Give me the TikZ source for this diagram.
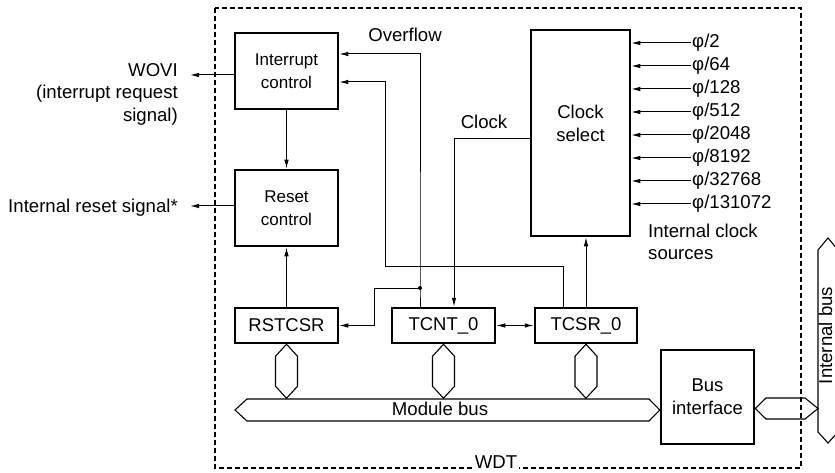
\documentclass[tikz,border=0pt]{standalone}
\usepackage{fontspec}
\setmainfont{Liberation Sans}
\usetikzlibrary{arrows.meta,calc}
\begin{document}
\begin{tikzpicture}[x=1pt,y=-1pt,
  blk/.style={draw, line width=2.5pt, minimum width=103pt, inner sep=0pt, align=center, font=\fontsize{18.5}{23}\selectfont},
  wire/.style={line width=1pt},
  arr/.style={wire, -{Latex[length=9pt,width=4.5pt]}},
  darr/.style={wire, {Latex[length=9pt,width=4.5pt]}-{Latex[length=9pt,width=4.5pt]}},
  bus/.style={line width=1.1pt},
  lbl/.style={font=\fontsize{18.6}{22.5}\selectfont, inner sep=0pt},
]
\useasboundingbox (0,0) rectangle (835,473);
\clip (0,0) rectangle (835,473);
\fill[white] (0,0) rectangle (835,473);

% WDT boundary
\draw[line width=1.1pt, dash pattern=on 5pt off 3pt] (215,8) rectangle (801,468);
\node[lbl, fill=white, inner xsep=2pt, inner ysep=1pt] (wdt) at (496,462.5) {WDT};

% blocks
\node[blk, minimum height=76pt, font=\fontsize{17}{23}\selectfont] (ic) at (286.5,71) {Interrupt\\control};
\node[blk, minimum height=76pt, font=\fontsize{17}{23}\selectfont] (rc) at (286.5,208) {Reset\\control};
\node[blk, minimum height=35pt] (rst) at (286.5,325.5) {RSTCSR};
\node[blk, minimum height=35pt] (tcnt) at (443.5,325.5) {TCNT\_0};
\node[blk, minimum height=35pt, minimum width=102pt] (tcsr) at (586,325.5) {TCSR\_0};
\node[blk, minimum width=99pt, minimum height=206pt,
  label={[lbl, font=\fontsize{18.5}{23}\selectfont, align=center, yshift=9.5pt]center:{Clock\\select}}] (cs) at (580.5,133) {};
\node[blk, minimum width=93pt, minimum height=94pt] (bi) at (707.5,397) {Bus\\interface};

% outside labels
\node[lbl, align=right, anchor=north east] (wovi) at (178,63) {WOVI\\(interrupt request\\signal)};
\node[lbl, anchor=base east] (rstsig) at (178,213) {Internal reset signal*};
\node[lbl, anchor=base] (ovf) at (405,42) {Overflow};
\node[lbl, anchor=base] (clk) at (484,129) {Clock};
\node[lbl, align=left, anchor=north west] (ics) at (648,223.5) {Internal clock\\sources};

% clock sources
\foreach \t [count=\i] in {2,64,128,512,2048,8192,32768,131072} {
  \node[lbl, anchor=west, inner xsep=1pt] (src\i) at (691,20+23*\i) {φ/\t};
  \draw[arr] (src\i.west) -- (cs.east |- src\i.west);
}

% outputs
\coordinate (woviend) at (190,75);
\coordinate (rstend) at (190,206);
\draw[arr] (ic.west |- woviend) -- (woviend);
\draw[arr] (rc.west |- rstend) -- (rstend);
\draw[arr] (ic.south) -- (rc.north);
\draw[arr] (rst.north) -- (rc.south);

% overflow
\coordinate (ovtop) at (420,54);
\coordinate (jn) at (420,288);
\draw[arr] (tcnt.north -| jn) -- (jn) |- (ic.east |- ovtop);
\fill (jn) circle (2pt);
\draw[arr] (jn) -| ($(rst.east)+(35,0)$) -- (rst.east);

% TCSR to interrupt control
\coordinate (c2) at (385,266);
\coordinate (y82) at (0,82);
\draw[arr] ([xshift=-23pt]tcsr.north) |- (c2) |- (ic.east |- y82);

% clock
\coordinate (y139) at (0,139);
\draw[arr] (cs.west |- y139) -| ([xshift=10.5pt]tcnt.north);
\draw[arr] (tcsr.north) -- (tcsr.north |- cs.south);
\draw[darr] (tcnt.east) -- (tcsr.west);

% register-to-bus connectors
\foreach \r in {rst,tcnt,tcsr}
  \draw[bus] (\r.south) -- ++(11,12) -- ++(0,30) -- ++(-11,12) -- ++(-11,-12) -- ++(0,-30) -- cycle;

% module bus
\coordinate (mbl) at (235,410);
\draw[bus] (mbl) -- ++(12,-11) -- (649,399) -- (bi.west |- mbl) -- (649,421) -- (247,421) -- cycle;
\node[lbl, anchor=base] (mb) at (440,415.5) {Module bus};

% bus interface to internal bus
\coordinate (ib) at (818,408.5);
\draw[bus] (bi.east |- ib) -- (766,398) -- (805,398) -- (ib) -- (805,419) -- (766,419) -- cycle;

% internal bus
\draw[bus] (818,250) -- (828,238) -- (838,250) -- (838,432) -- (828,443) -- (818,432) -- cycle;
\node[lbl, rotate=90] (ibus) at (825.5,335.5) {Internal bus};
\end{tikzpicture}
\end{document}
